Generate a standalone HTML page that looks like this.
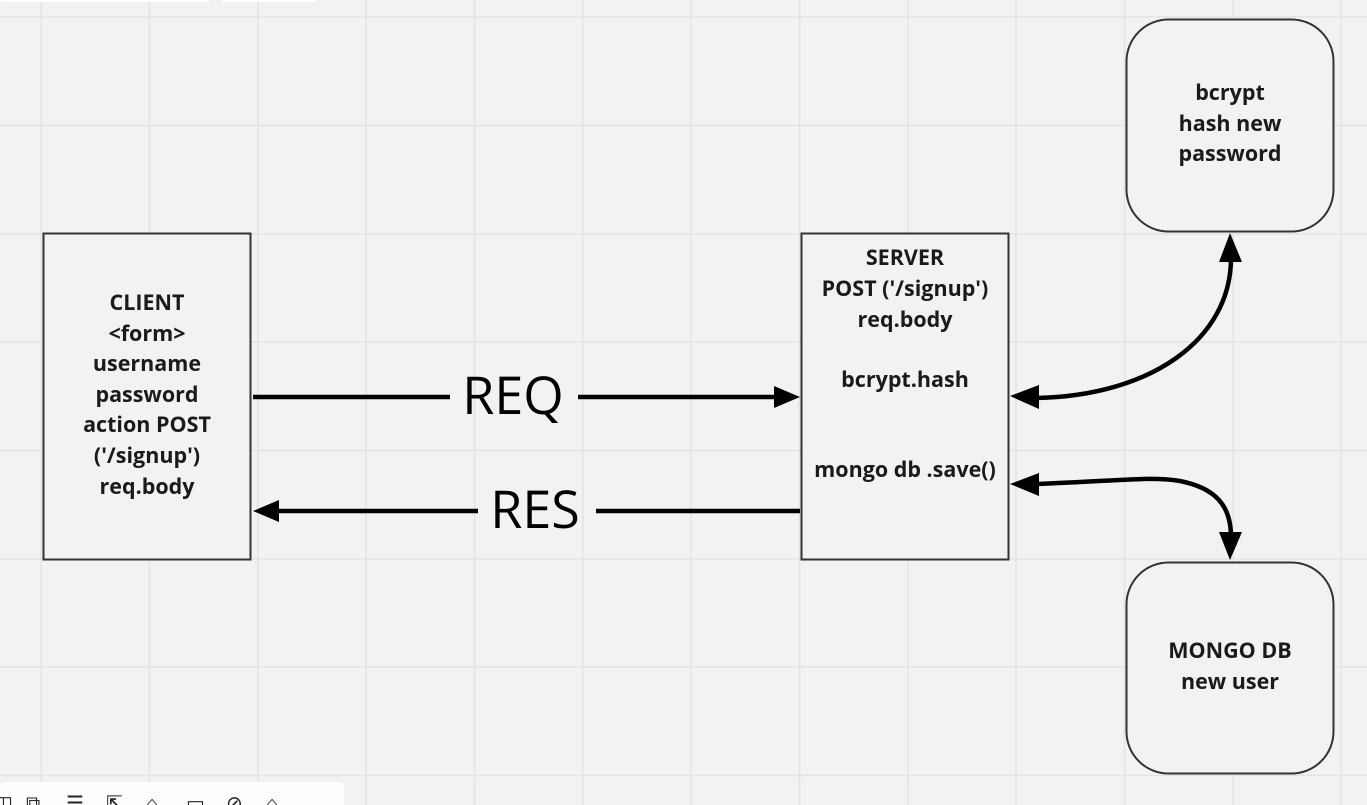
<!DOCTYPE html>
<html><head><meta charset="utf-8"><style>
html,body{margin:0;padding:0;background:#f2f2f2;}
svg{display:block;}
text{font-family:"Open Sans","Liberation Sans",sans-serif;}
.b{font-weight:bold;font-size:21.5px;fill:#1a1a1a;text-anchor:middle;}
.big{font-size:52px;fill:#000;text-anchor:middle;}
</style></head><body>
<svg width="1367" height="805" viewBox="0 0 1367 805" xmlns="http://www.w3.org/2000/svg">
<rect width="1367" height="805" fill="#f2f2f2"/>
<g stroke="#e3e3e3" stroke-width="1.5">
<line x1="41" y1="0" x2="41" y2="805"/><line x1="149.5" y1="0" x2="149.5" y2="805"/><line x1="258" y1="0" x2="258" y2="805"/><line x1="366" y1="0" x2="366" y2="805"/><line x1="474.5" y1="0" x2="474.5" y2="805"/><line x1="583" y1="0" x2="583" y2="805"/><line x1="691" y1="0" x2="691" y2="805"/><line x1="799.5" y1="0" x2="799.5" y2="805"/><line x1="908" y1="0" x2="908" y2="805"/><line x1="1016" y1="0" x2="1016" y2="805"/><line x1="1124.5" y1="0" x2="1124.5" y2="805"/><line x1="1233" y1="0" x2="1233" y2="805"/><line x1="1341" y1="0" x2="1341" y2="805"/>
<line x1="0" y1="17" x2="1367" y2="17"/><line x1="0" y1="125.5" x2="1367" y2="125.5"/><line x1="0" y1="234" x2="1367" y2="234"/><line x1="0" y1="342" x2="1367" y2="342"/><line x1="0" y1="450.5" x2="1367" y2="450.5"/><line x1="0" y1="559" x2="1367" y2="559"/><line x1="0" y1="667" x2="1367" y2="667"/><line x1="0" y1="775.5" x2="1367" y2="775.5"/>
</g>
<rect x="0" y="-10" width="210" height="12" rx="3" fill="#fff"/>
<rect x="221" y="-10" width="95" height="12" rx="3" fill="#fff"/>
<rect x="0" y="782" width="344" height="40" rx="5" fill="#fdfdfd"/>
<g font-size="20" fill="#222" style="font-family:'DejaVu Sans',sans-serif">
<text x="-6" y="810">◫</text><text x="26" y="810">⧉</text><text x="66" y="810">☰</text><text x="106" y="810">⇱</text><text x="146" y="810">⌂</text><text x="186" y="810">▭</text><text x="226" y="810">⊘</text><text x="266" y="810">⌂</text>
</g>

<g fill="#f2f2f2" stroke="#333" stroke-width="2">
<rect x="43.5" y="233.5" width="207" height="326"/>
<rect x="801.5" y="233.5" width="207" height="326"/>
<rect x="1126.5" y="19.5" width="207" height="212" rx="42"/>
<rect x="1126.5" y="562.5" width="207" height="211" rx="42"/>
</g>

<g class="b">
<text x="147" y="310">CLIENT</text>
<text x="147" y="341">&lt;form&gt;</text>
<text x="147" y="371">username</text>
<text x="147" y="402">password</text>
<text x="147" y="432">action POST</text>
<text x="147" y="463">('/signup')</text>
<text x="147" y="494">req.body</text>
<text x="905" y="265">SERVER</text>
<text x="905" y="296">POST ('/signup')</text>
<text x="905" y="327">req.body</text>
<text x="905" y="387">bcrypt.hash</text>
<text x="905" y="477">mongo db .save()</text>
<text x="1230" y="100">bcrypt</text>
<text x="1230" y="131">hash new</text>
<text x="1230" y="161">password</text>
<text x="1230" y="658">MONGO DB</text>
<text x="1230" y="689">new user</text>
</g>

<text class="big" x="513" y="414">REQ</text>
<text class="big" x="535" y="528">RES</text>

<g stroke="#000" stroke-width="4.5" fill="none">
<line x1="253" y1="397" x2="450" y2="397"/>
<line x1="578" y1="397" x2="775" y2="397"/>
<line x1="800" y1="511" x2="596" y2="511"/>
<line x1="478" y1="511" x2="278" y2="511"/>
<path d="M1036 398 C1150 396 1231 340 1231 258"/>
<path d="M1036 484 C1120 481 1150 476 1180 481 C1215 488 1231 505 1231 537"/>
</g>
<g fill="#000">
<polygon points="800,397 774,386 774,408"/>
<polygon points="253,511 279,500 279,522"/>
<polygon points="1010,396 1039,385 1039,409"/>
<polygon points="1230,233 1219,262 1242,262"/>
<polygon points="1010,484 1039,473 1039,496"/>
<polygon points="1230,560 1219,532 1242,532"/>
</g>
</svg>
</body></html>
